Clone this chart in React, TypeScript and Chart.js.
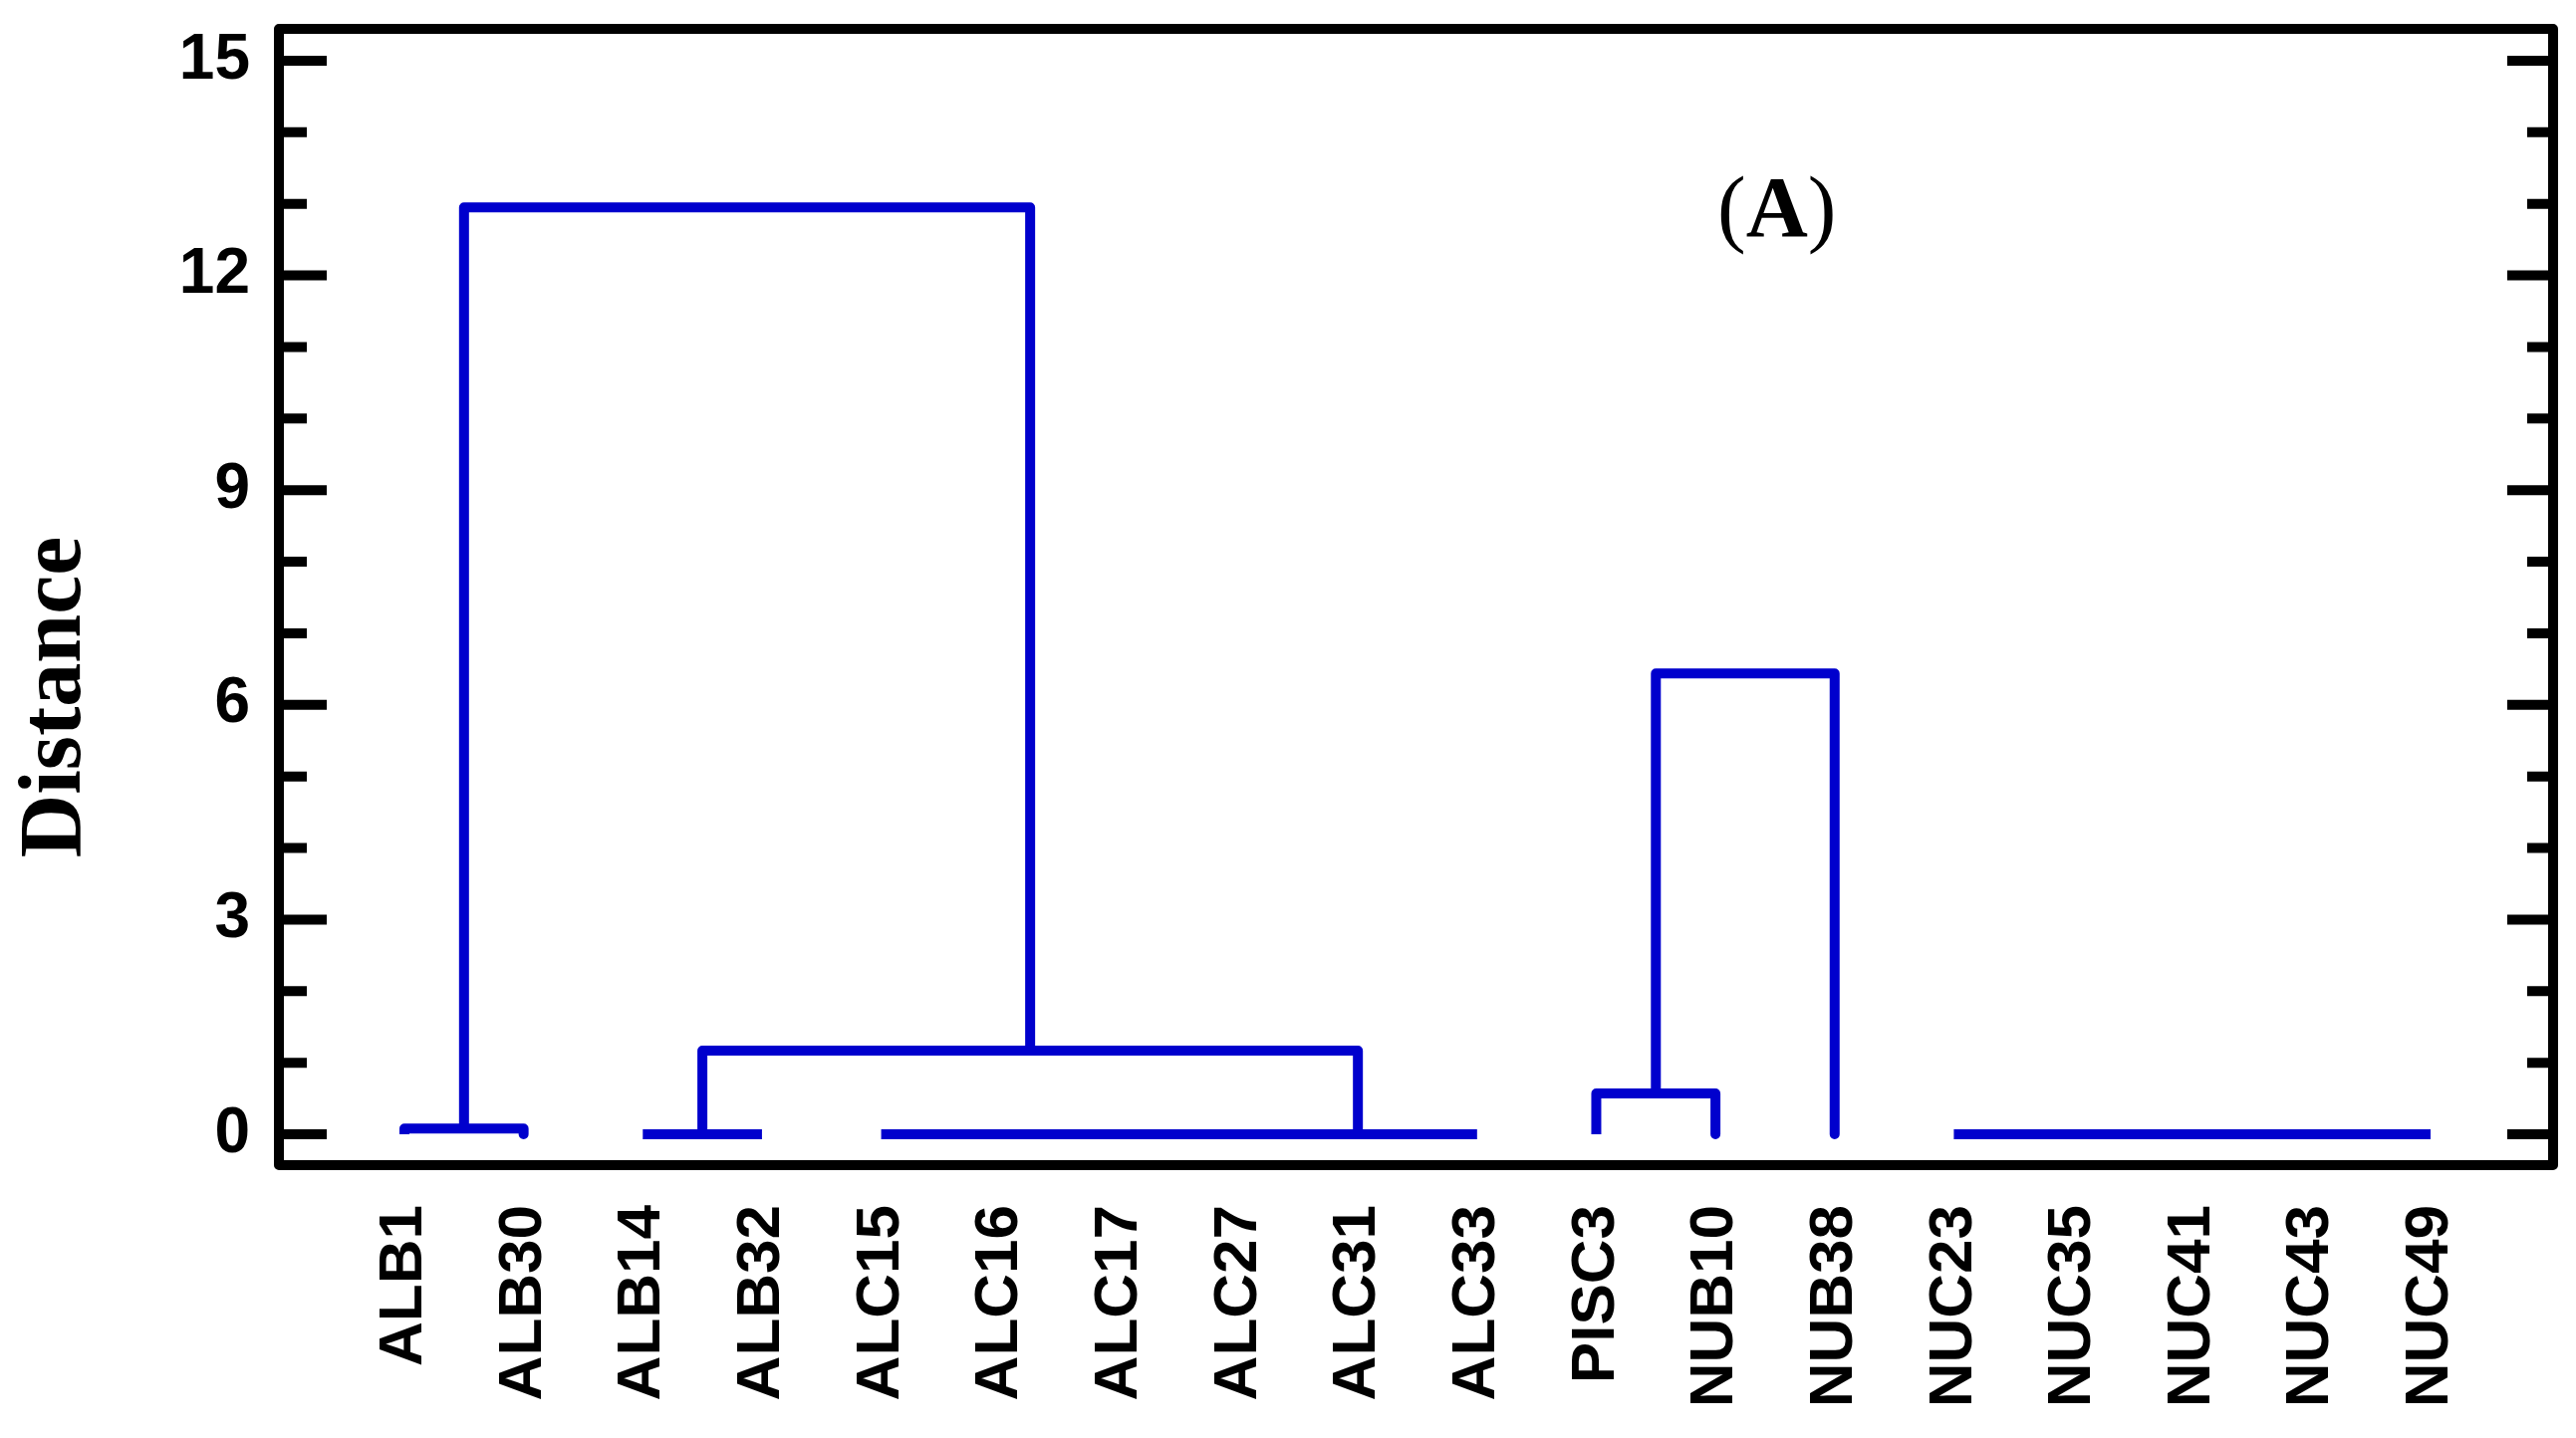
import React, { useEffect, useRef } from 'react';
import { Chart, registerables } from 'chart.js';

Chart.register(...registerables);

// Leaf (sample) labels along the x axis, in dendrogram order
const leafLabels = [
  'ALB1', 'ALB30', 'ALB14', 'ALB32', 'ALC15', 'ALC16', 'ALC17', 'ALC27', 'ALC31',
  'ALC33', 'PISC3', 'NUB10', 'NUB38', 'NUC23', 'NUC35', 'NUC41', 'NUC43', 'NUC49',
];
const leafPositions = [1, 2, 3, 4, 5, 6, 7, 8, 9, 10, 11, 12, 13, 14, 15, 16, 17, 18];

// Dendrogram links: left leg (x, bottom y), right leg (x, bottom y), join height
const linkLeftX = [1, 3, 5, 3.5, 1.5, 11, 11.5, 14];
const linkLeftY = [0, 0, 0, 0, 0.08, 0, 0.57, 0];
const linkRightX = [2, 4, 10, 9, 6.25, 12, 13, 18];
const linkRightY = [0, 0, 0, 0, 1.17, 0, 0, 0];
const linkHeight = [0.08, 0, 0, 1.17, 12.95, 0.57, 6.44, 0];

// Y axis ticks
const yMajorTicks = [0, 3, 6, 9, 12, 15];
const yMinorTicks = [0, 1, 2, 3, 4, 5, 6, 7, 8, 9, 10, 11, 12, 13, 14, 15];

const yTitle = 'Distance';
const panelLabel = ['(', 'A', ')'];

const BLUE = '#0000CD';

const decorPlugin = {
  id: 'decor',
  afterDraw(chart: any) {
    const { ctx, chartArea: a, scales } = chart;
    const y = scales.y;
    ctx.save();
    // frame
    ctx.strokeStyle = '#000';
    ctx.lineWidth = 10;
    ctx.lineJoin = 'round';
    ctx.strokeRect(a.left, a.top, a.right - a.left, a.bottom - a.top);
    // inward ticks on both sides
    ctx.lineCap = 'butt';
    for (const v of yMinorTicks) {
      const py = y.getPixelForValue(v);
      const major = yMajorTicks.includes(v);
      const lenL = major ? 48 : 28;
      const lenR = major ? 46 : 26;
      ctx.beginPath();
      ctx.moveTo(a.left, py);
      ctx.lineTo(a.left + lenL, py);
      ctx.moveTo(a.right, py);
      ctx.lineTo(a.right - lenR, py);
      ctx.stroke();
    }
    // y axis title
    ctx.fillStyle = '#000';
    ctx.save();
    ctx.translate(80, 700);
    ctx.rotate(-Math.PI / 2);
    ctx.font = 'bold 88px "Liberation Serif", "Times New Roman", serif';
    ctx.textAlign = 'center';
    ctx.textBaseline = 'alphabetic';
    ctx.fillText(yTitle, 0, 0);
    ctx.restore();
    // panel label (A)
    ctx.textAlign = 'left';
    ctx.textBaseline = 'alphabetic';
    let x = 1724;
    const base = 237;
    const fonts = [
      '86px "Liberation Serif", "Times New Roman", serif',
      'bold 86px "Liberation Serif", "Times New Roman", serif',
      '86px "Liberation Serif", "Times New Roman", serif',
    ];
    panelLabel.forEach((t, i) => {
      ctx.font = fonts[i];
      ctx.fillText(t, x, base);
      x += ctx.measureText(t).width;
    });
    ctx.restore();
  },
};

export default function App() {
  const ref = useRef<HTMLCanvasElement | null>(null);

  useEffect(() => {
    if (!ref.current) return;
    const datasets = linkLeftX.map((lx, i) => ({
      data: [
        { x: lx, y: linkLeftY[i] },
        { x: lx, y: linkHeight[i] },
        { x: linkRightX[i], y: linkHeight[i] },
        { x: linkRightX[i], y: linkRightY[i] },
      ],
      borderColor: BLUE,
      borderWidth: 10,
      borderJoinStyle: 'round' as const,
      borderCapStyle: 'butt' as const,
      pointRadius: 0,
      tension: 0,
      fill: false,
    }));

    const chart = new Chart(ref.current, {
      type: 'line',
      data: { datasets },
      plugins: [decorPlugin],
      options: {
        animation: false,
        responsive: false,
        devicePixelRatio: 1,
        layout: { padding: { top: 29, right: 23, left: 0, bottom: 0 } },
        plugins: { legend: { display: false }, tooltip: { enabled: false } },
        scales: {
          x: {
            type: 'linear',
            min: -0.053,
            max: 19.028,
            grid: { display: false, drawTicks: false },
            border: { display: false },
            afterBuildTicks: (scale: any) => {
              scale.ticks = leafPositions.map((v) => ({ value: v }));
            },
            afterFit: (scale: any) => {
              scale.height = 274;
              scale.paddingLeft = 0;
              scale.paddingRight = 0;
            },
            ticks: {
              autoSkip: false,
              minRotation: 90,
              maxRotation: 90,
              padding: 40,
              color: '#000',
              font: { family: '"Liberation Sans", Arial, sans-serif', size: 62, weight: 'bold' },
              callback: (v: any) => leafLabels[leafPositions.indexOf(Number(v))] ?? '',
            },
          },
          y: {
            type: 'linear',
            min: -0.431,
            max: 15.445,
            grid: { display: false, drawTicks: false },
            border: { display: false },
            afterBuildTicks: (scale: any) => {
              scale.ticks = yMajorTicks.map((v) => ({ value: v }));
            },
            afterFit: (scale: any) => {
              scale.width = 280;
              scale.paddingTop = 0;
              scale.paddingBottom = 0;
            },
            ticks: {
              padding: 29,
              color: '#000',
              font: { family: '"Liberation Sans", Arial, sans-serif', size: 64, weight: 'bold' },
              callback: (v: any) => String(v),
            },
          },
        },
      },
    });
    return () => chart.destroy();
  }, []);

  return (
    <div style={{ position: 'absolute', left: 0, top: 0, width: 2586, height: 1444, background: '#fff' }}>
      <canvas ref={ref} width={2586} height={1444} style={{ display: 'block' }} />
    </div>
  );
}
